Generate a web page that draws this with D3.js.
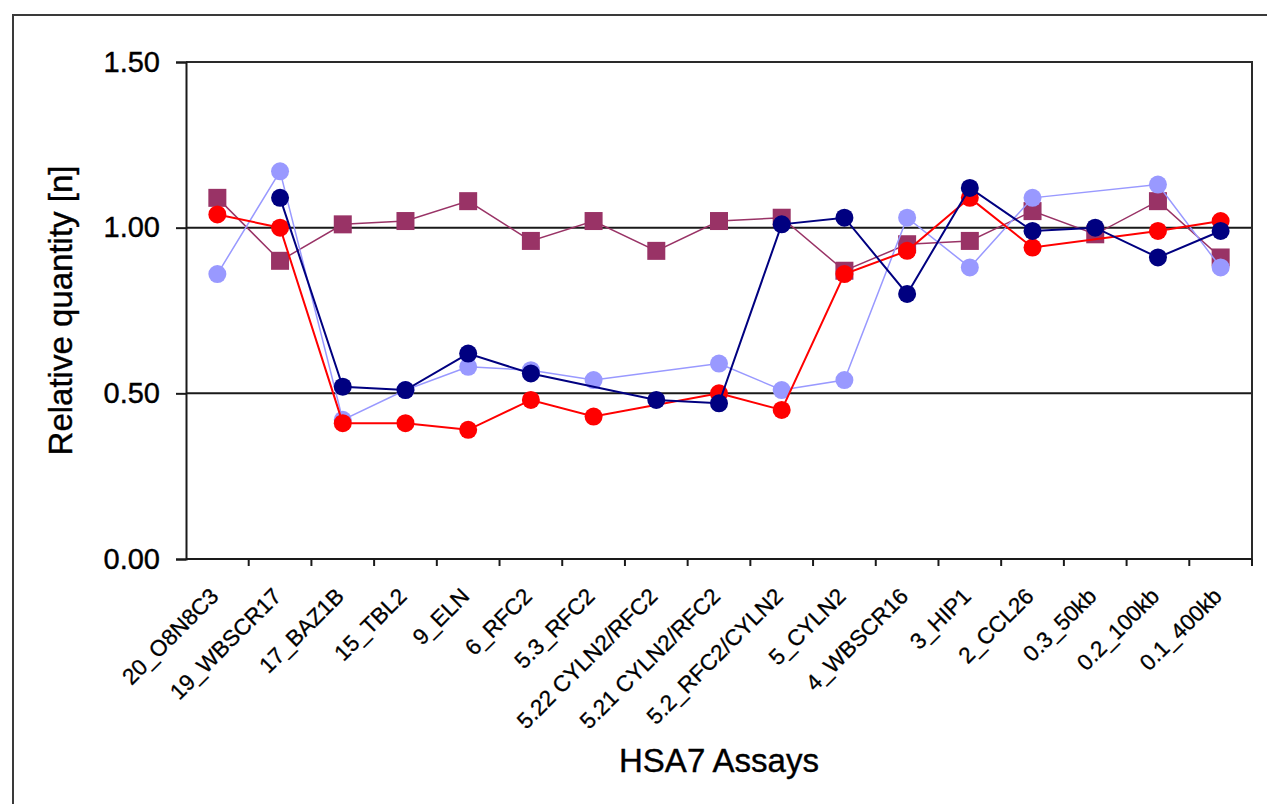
<!DOCTYPE html>
<html>
<head>
<meta charset="utf-8">
<script src="https://cdn.jsdelivr.net/npm/d3@7"></script>
<style>
    body { margin: 0; background: #fff; }
    text { font-family: "Liberation Sans", Arial, sans-serif; fill: #000; stroke: #000; stroke-width: 0.4px; }
</style>
</head>
<body>
<script>
// Assay names along the x axis
var categories = ["20_O8N8C3", "19_WBSCR17", "17_BAZ1B", "15_TBL2", "9_ELN", "6_RFC2",
    "5.3_RFC2", "5.22 CYLN2/RFC2", "5.21 CYLN2/RFC2", "5.2_RFC2/CYLN2", "5_CYLN2",
    "4_WBSCR16", "3_HIP1", "2_CCL26", "0.3_50kb", "0.2_100kb", "0.1_400kb"];

// Relative quantities per sample (null = no value measured)
var maroonValues = [1.09, 0.90, 1.01, 1.02, 1.08, 0.96, 1.02, 0.93, 1.02, 1.03, 0.87, 0.95, 0.96, 1.05, 0.98, 1.08, 0.91];
var lavenderValues = [0.86, 1.17, 0.42, 0.51, 0.58, 0.57, 0.54, null, 0.59, 0.51, 0.54, 1.03, 0.88, 1.09, null, 1.13, 0.88];
var redValues = [1.04, 1.00, 0.41, 0.41, 0.39, 0.48, 0.43, null, 0.50, 0.45, 0.86, 0.93, 1.09, 0.94, null, 0.99, 1.02];
var navyValues = [null, 1.09, 0.52, 0.51, 0.62, 0.56, null, 0.48, 0.47, 1.01, 1.03, 0.80, 1.12, 0.99, 1.00, 0.91, 0.99];

// Y axis ticks
var yTicks = [0, 0.5, 1.0, 1.5];
var gridValues = [0.5, 1.0];

var width = 1267,
    height = 804;

var plot = {left: 186, right: 1252, top: 62, bottom: 559};

var svg = d3.select("body")
    .append("svg")
    .attr("width", width)
    .attr("height", height);

// outer chart frame (right and bottom run off the picture)
svg.append("rect")
    .attr("x", 13)
    .attr("y", 15)
    .attr("width", width + 20)
    .attr("height", height + 20)
    .attr("fill", "none")
    .attr("stroke", "#3a3a3a")
    .attr("stroke-width", 2);

var x = d3.scaleBand()
    .domain(categories)
    .range([plot.left, plot.right])
    .padding(0);

var y = d3.scaleLinear()
    .domain([0, 1.5])
    .range([plot.bottom, plot.top]);

// gridlines at 0.5 and 1.0
svg.selectAll(".grid")
    .data(gridValues)
    .enter()
    .append("line")
    .attr("class", "grid")
    .attr("x1", plot.left)
    .attr("x2", plot.right)
    .attr("y1", function(d){ return y(d); })
    .attr("y2", function(d){ return y(d); })
    .attr("stroke", "#1a1a1a")
    .attr("stroke-width", 2);

// plot area border (top and right)
svg.append("path")
    .attr("d", "M" + plot.left + "," + plot.top + "H" + plot.right + "V" + plot.bottom)
    .attr("fill", "none")
    .attr("stroke", "#2a2a2a")
    .attr("stroke-width", 2);

// y axis
var yAxis = svg.append("g")
    .attr("transform", "translate(" + plot.left + ",0)")
    .call(d3.axisLeft(y)
        .tickValues(yTicks)
        .tickSize(10)
        .tickPadding(16)
        .tickFormat(d3.format(".2f")));
yAxis.select(".domain").attr("stroke", "#1a1a1a").attr("stroke-width", 2);
yAxis.selectAll(".tick line").attr("stroke", "#1a1a1a").attr("stroke-width", 2);
yAxis.selectAll("text")
    .style("font-family", "'Liberation Sans', Arial, sans-serif")
    .style("font-size", "29px")
    .attr("fill", "#000");

// x axis: ticks sit between categories, as in the original
var xAxis = svg.append("g")
    .attr("transform", "translate(0," + plot.bottom + ")");
xAxis.append("line")
    .attr("x1", plot.left)
    .attr("x2", plot.right)
    .attr("stroke", "#1a1a1a")
    .attr("stroke-width", 2);
xAxis.selectAll(".xtick")
    .data(categories.slice(1).concat(["end"]))
    .enter()
    .append("line")
    .attr("class", "xtick")
    .attr("x1", function(d, i){ return plot.left + (i + 1) * x.bandwidth(); })
    .attr("x2", function(d, i){ return plot.left + (i + 1) * x.bandwidth(); })
    .attr("y1", 0)
    .attr("y2", 7)
    .attr("stroke", "#1a1a1a")
    .attr("stroke-width", 2);

// rotated category labels
xAxis.selectAll(".xlabel")
    .data(categories)
    .enter()
    .append("text")
    .attr("class", "xlabel")
    .attr("transform", function(d){
        return "translate(" + (x(d) + x.bandwidth() / 2 - 3) + ",33) rotate(-45)";
    })
    .attr("text-anchor", "end")
    .attr("dy", "0.35em")
    .style("font-size", "22.5px")
    .style("stroke-width", "0.3px")
    .text(function(d){ return d; });

// axis titles
svg.append("text")
    .attr("transform", "translate(72," + ((plot.top + plot.bottom) / 2) + ") rotate(-90)")
    .attr("text-anchor", "middle")
    .style("font-size", "33px")
    .text("Relative quantity [n]");

svg.append("text")
    .attr("x", (plot.left + plot.right) / 2)
    .attr("y", 772)
    .attr("text-anchor", "middle")
    .style("font-size", "33px")
    .text("HSA7 Assays");

// series, in drawing order
var series = [
    {values: maroonValues, color: "#993366", width: 1.5, shape: "square"},
    {values: lavenderValues, color: "#9999ff", width: 1.5, shape: "circle"},
    {values: redValues, color: "#ff0000", width: 2, shape: "circle"},
    {values: navyValues, color: "#000080", width: 2, shape: "circle"}
];

var line = d3.line()
    .x(function(d){ return x(d.cat) + x.bandwidth() / 2; })
    .y(function(d){ return y(d.v); });

series.forEach(function(s){
    // keep only measured points; gaps are bridged like the original
    var pts = s.values.map(function(v, i){ return {cat: categories[i], v: v}; })
        .filter(function(d){ return d.v !== null; });

    svg.append("path")
        .datum(pts)
        .attr("d", line)
        .attr("fill", "none")
        .attr("stroke", s.color)
        .attr("stroke-width", s.width);

    if (s.shape === "square") {
        svg.selectAll(null)
            .data(pts)
            .enter()
            .append("rect")
            .attr("x", function(d){ return x(d.cat) + x.bandwidth() / 2 - 9; })
            .attr("y", function(d){ return y(d.v) - 9; })
            .attr("width", 18)
            .attr("height", 18)
            .attr("fill", s.color);
    } else {
        svg.selectAll(null)
            .data(pts)
            .enter()
            .append("circle")
            .attr("cx", function(d){ return x(d.cat) + x.bandwidth() / 2; })
            .attr("cy", function(d){ return y(d.v); })
            .attr("r", 9)
            .attr("fill", s.color);
    }
});
</script>
</body>
</html>
